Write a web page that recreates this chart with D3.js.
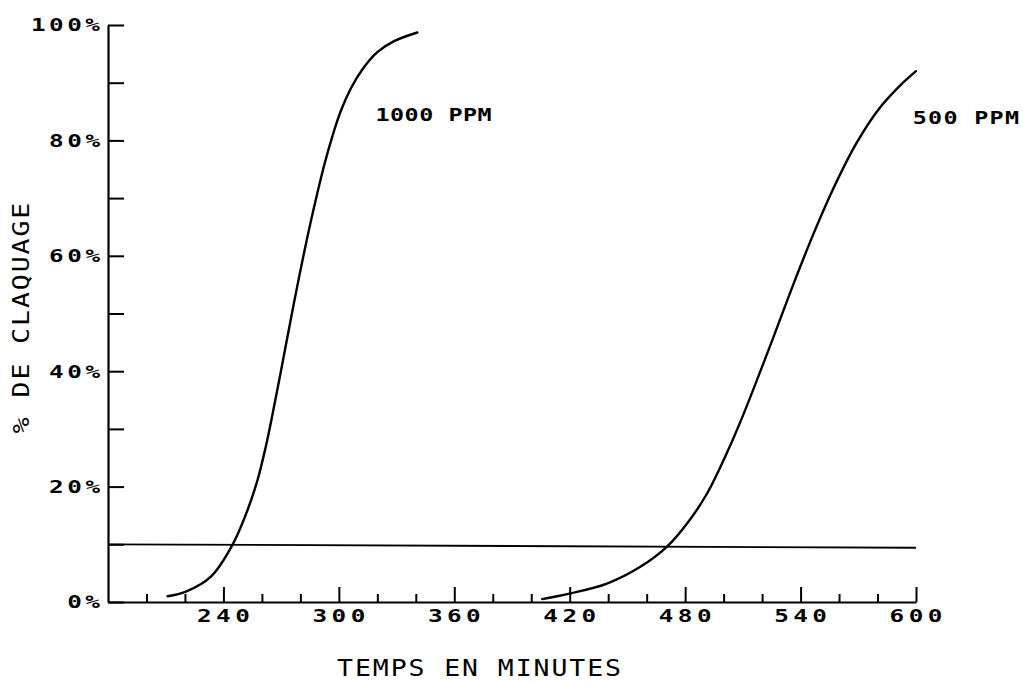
<!DOCTYPE html>
<html>
<head>
<meta charset="utf-8">
<script src="https://cdn.jsdelivr.net/npm/d3@7"></script>
<style>
  html, body { margin: 0; padding: 0; background: #fff; }
  svg { display: block; }
</style>
</head>
<body>
<svg id="chart" width="1023" height="684"></svg>
<script>
// ---- data ----
const curve1000 = [
  [211.0, 1.0], [220.5, 1.8], [233.5, 4.4], [244.7, 9.9], [252.5, 15.9],
  [257.7, 21.1], [262.0, 26.9], [265.5, 32.5], [268.9, 38.3], [272.4, 44.4],
  [276.7, 51.9], [281.9, 60.5], [287.1, 68.4], [292.3, 75.6], [296.7, 80.8],
  [301.0, 85.1], [306.2, 89.0], [312.2, 92.3], [320.0, 95.3], [328.7, 97.2],
  [340.8, 98.7]
];
const curve500 = [
  [405.7, 0.5], [420.4, 1.5], [439.4, 3.2], [456.7, 6.1], [470.6, 9.6],
  [481.0, 13.6], [491.4, 18.8], [501.8, 25.9], [510.4, 32.6],
  [526.0, 46.0], [536.3, 55.1], [546.7, 63.8], [557.1, 71.7], [569.2, 79.6],
  [581.3, 85.7], [591.7, 89.5], [600.0, 92.0]
];
const thresholdLine = [[180, 10.0], [600, 9.4]];
const xMajorTicks = [240, 300, 360, 420, 480, 540, 600];
const xMinorTicks = [200, 220, 260, 280, 320, 340, 380, 400, 440, 460, 500, 520, 560, 580];
const yTicks = [0, 10, 20, 30, 40, 50, 60, 70, 80, 90, 100];
const yLabelTicks = [0, 20, 40, 60, 80, 100];
const seriesLabels = [
  { text: "1000 PPM", x: 319, y: 84.5 },
  { text: "500 PPM", x: 598.3, y: 84.0 }
];
const xTitle = "TEMPS EN MINUTES";
const yTitle = "% DE CLAQUAGE";

// ---- layout ----
const svg = d3.select("#chart");
const x = d3.scaleLinear().domain([180, 600]).range([108, 916]);
const y = d3.scaleLinear().domain([0, 100]).range([602, 25]);
const FONT = "'DejaVu Sans Mono', 'Liberation Mono', monospace";
const INK = "#000";

function stretchedText(g, str, px, py, opts) {
  const s = opts.scale, ls = opts.spacing;
  const anchor = opts.anchor || "start";
  let dx = 0;
  if (anchor === "middle") dx = ls / 2;
  if (anchor === "end") dx = ls;
  const rot = opts.rotate ? ` rotate(${opts.rotate})` : "";
  return g.append("text")
    .attr("transform", `translate(${px},${py})${rot} scale(${s},1)`)
    .attr("dx", dx)
    .attr("dy", "0.36em")
    .attr("text-anchor", anchor)
    .style("font-family", FONT)
    .style("font-size", opts.size + "px")
    .style("font-weight", opts.weight || "normal")
    .style("letter-spacing", ls + "px")
    .attr("fill", INK)
    .text(str);
}

// x axis: major ticks
svg.append("g")
  .attr("transform", `translate(0,${y(0)})`)
  .call(d3.axisBottom(x).tickValues(xMajorTicks).tickSizeInner(-15).tickSizeOuter(0).tickFormat(""));
const xMinor = svg.append("g")
  .attr("transform", `translate(0,${y(0)})`)
  .call(d3.axisBottom(x).tickValues(xMinorTicks).tickSizeInner(-8).tickSizeOuter(0).tickFormat(""));
xMinor.select(".domain").remove();

// y axis
svg.append("g")
  .attr("transform", `translate(${x(180)},0)`)
  .call(d3.axisLeft(y).tickValues(yTicks).tickSizeInner(-16).tickSizeOuter(0).tickFormat(""));

svg.selectAll(".domain").attr("stroke", INK).attr("stroke-width", 2.2);
svg.selectAll(".tick line").attr("stroke", INK).attr("stroke-width", 2);

// tick labels
const labels = svg.append("g");
xMajorTicks.forEach(v => {
  stretchedText(labels, String(v), x(v), 616, { size: 18, scale: 1.35, spacing: 3.3, anchor: "middle", weight: "bold" });
});
yLabelTicks.forEach(v => {
  stretchedText(labels, v + "%", 100, y(v), { size: 18, scale: 1.35, spacing: 2.6, anchor: "end", weight: "bold" });
});

// lines
const line = d3.line().x(d => x(d[0])).y(d => y(d[1])).curve(d3.curveCatmullRom.alpha(0.5));
svg.append("path").datum(thresholdLine)
  .attr("d", d3.line().x(d => x(d[0])).y(d => y(d[1])))
  .attr("fill", "none").attr("stroke", INK).attr("stroke-width", 1.8);
[curve1000, curve500].forEach(c => {
  svg.append("path").datum(c)
    .attr("d", line)
    .attr("fill", "none").attr("stroke", INK).attr("stroke-width", 2.4)
    .attr("stroke-linecap", "round");
});

// series labels (positioned in data units)
stretchedText(labels, seriesLabels[0].text, x(seriesLabels[0].x), y(seriesLabels[0].y), { size: 18, scale: 1.3, spacing: 0.4, anchor: "start", weight: "bold" });
stretchedText(labels, seriesLabels[1].text, x(seriesLabels[1].x), y(seriesLabels[1].y), { size: 18, scale: 1.3, spacing: 1.0, anchor: "start", weight: "bold" });

// axis titles
stretchedText(labels, xTitle, 479, 668, { size: 23, scale: 1.15, spacing: 1.7, anchor: "middle" });
stretchedText(labels, yTitle, 21, 318, { size: 23, scale: 1.15, spacing: 1.7, anchor: "middle", rotate: -90 });
</script>
</body>
</html>
